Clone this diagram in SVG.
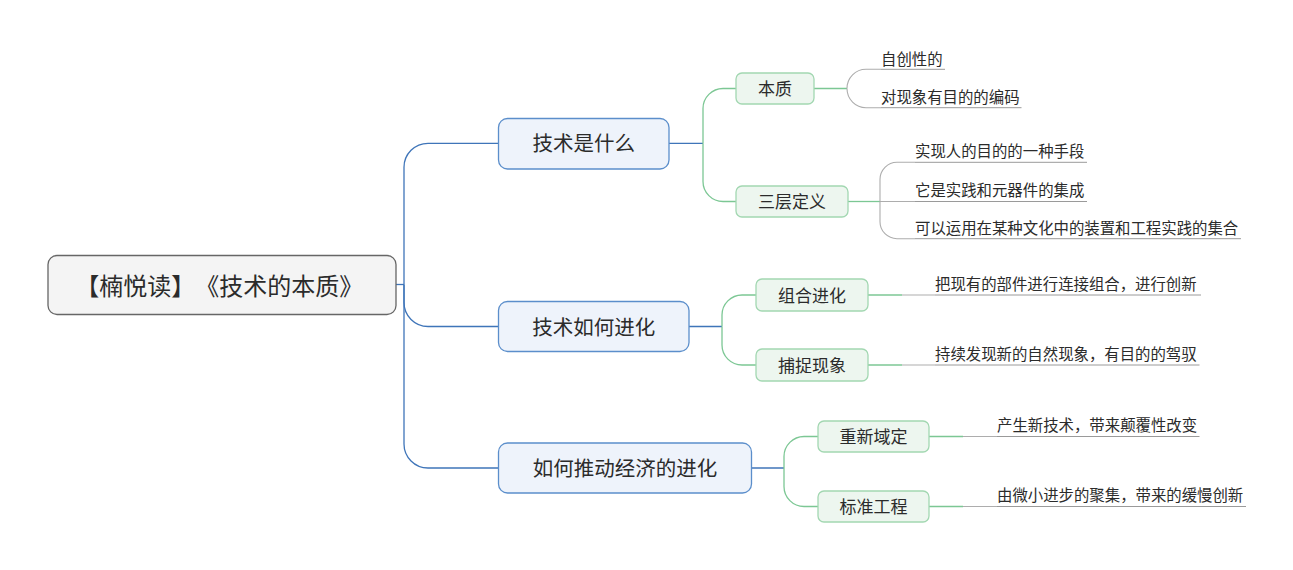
<svg xmlns="http://www.w3.org/2000/svg" width="1293" height="570" viewBox="0 0 1293 570">
<style>
text{font-family:"Noto Sans CJK SC","Noto Sans",sans-serif;fill:#2b2b2b;text-spacing-trim:space-all}
.root rect{fill:#f4f4f4;stroke:#666;stroke-width:1.3}
.root text{font-size:24px}
.l1 rect{fill:#eef3fb;stroke:#5b8ecb;stroke-width:1.3}
.l1 text{font-size:20.5px}
.l2 rect{fill:#edf6ef;stroke:#a2d7b1;stroke-width:1.3}
.l2 text{font-size:17px}
.leaf text{font-size:15.4px}
.leaf path{stroke:#9a9a9a;stroke-width:1;fill:none}
.c path{fill:none;stroke-width:1.3}
.c .b{stroke:#3f75b9}
.c .g{stroke:#7cc794}
.c .y{stroke:#adadad;stroke-width:1.1}
</style>
<rect width="1293" height="570" fill="#fff"/>
<g id="connectors" class="c">
<path class="b" d="M396,284.5 H404"/>
<path class="b" d="M404,284.5 V167.3 A24,24 0 0 1 428,143.3 H498.5"/>
<path class="b" d="M404,284.5 V302.5 A24,24 0 0 0 428,326.5 H498.5"/>
<path class="b" d="M404,284.5 V444 A24,24 0 0 0 428,468 H498.5"/>
<path class="b" d="M669,143.3 H703"/>
<path class="b" d="M689,326.5 H722"/>
<path class="b" d="M751.5,468 H784"/>
<path class="g" d="M703,143.3 V108.5 A20,20 0 0 1 723,88.5 H736"/>
<path class="g" d="M703,143.3 V181.5 A20,20 0 0 0 723,201.5 H736"/>
<path class="g" d="M722,326.5 V315 A20,20 0 0 1 742,295 H756"/>
<path class="g" d="M722,326.5 V345 A20,20 0 0 0 742,365 H756"/>
<path class="g" d="M784,468 V456.5 A20,20 0 0 1 804,436.5 H818"/>
<path class="g" d="M784,468 V486.5 A20,20 0 0 0 804,506.5 H818"/>
<path class="g" d="M814,88.5 H847"/>
<path class="g" d="M848,201.5 H880"/>
<path class="g" d="M868,295 H902"/>
<path class="g" d="M868,365 H902"/>
<path class="g" d="M929,436.5 H963"/>
<path class="g" d="M929,506.5 H963"/>
<path class="y" d="M847,88.5 A19,19.2 0 0 1 866,69.3 H881"/>
<path class="y" d="M847,88.5 A19,19.2 0 0 0 866,107.7 H881"/>
<path class="y" d="M880,201.5 V179.3 A17,17 0 0 1 897,162.3 H915"/>
<path class="y" d="M880,201.5 H915"/>
<path class="y" d="M880,201.5 V221.7 A17,17 0 0 0 897,238.7 H915"/>
<path class="y" d="M902,295 H935"/>
<path class="y" d="M902,365 H935"/>
<path class="y" d="M963,436.5 H997"/>
<path class="y" d="M963,506.5 H997"/>
</g>
<g id="root" class="root"><rect x="48" y="255.5" width="348" height="59" rx="9"/><text y="295.3"><tspan x="75.3">【楠悦读】</tspan><tspan x="195.3">《技术的本质》</tspan></text></g>
<g id="n1" class="l1"><rect x="498.5" y="118.5" width="170.5" height="50.5" rx="9"/><text x="583.7" y="151.1" text-anchor="middle">技术是什么</text></g>
<g id="n2" class="l1"><rect x="498.5" y="301.5" width="190.5" height="50" rx="9"/><text x="593.7" y="334.6" text-anchor="middle">技术如何进化</text></g>
<g id="n3" class="l1"><rect x="498.5" y="443" width="253" height="50" rx="9"/><text x="625" y="475.5" text-anchor="middle">如何推动经济的进化</text></g>
<g id="n1a" class="l2"><rect x="736" y="73" width="78" height="31" rx="6"/><text x="775" y="95" text-anchor="middle">本质</text></g>
<g id="n1b" class="l2"><rect x="736" y="186" width="112" height="31" rx="6"/><text x="792" y="208" text-anchor="middle">三层定义</text></g>
<g id="n2a" class="l2"><rect x="756" y="279" width="112" height="32" rx="6"/><text x="812" y="301.5" text-anchor="middle">组合进化</text></g>
<g id="n2b" class="l2"><rect x="756" y="349" width="112" height="32" rx="6"/><text x="812" y="371.5" text-anchor="middle">捕捉现象</text></g>
<g id="n3a" class="l2"><rect x="818" y="421" width="111" height="31" rx="6"/><text x="873.5" y="443" text-anchor="middle">重新域定</text></g>
<g id="n3b" class="l2"><rect x="818" y="491" width="111" height="31" rx="6"/><text x="873.5" y="513" text-anchor="middle">标准工程</text></g>
<g id="leaf1" class="leaf"><text x="881" y="64.5">自创性的</text><path d="M881,69.3 H945"/></g>
<g id="leaf2" class="leaf"><text x="881" y="102.7">对现象有目的的编码</text><path d="M881,107.7 H1021.5"/></g>
<g id="leaf3" class="leaf"><text x="915" y="157.2">实现人的目的的一种手段</text><path d="M915,162.3 H1087"/></g>
<g id="leaf4" class="leaf"><text x="915" y="195.5">它是实践和元器件的集成</text><path d="M915,201.5 H1087"/></g>
<g id="leaf5" class="leaf"><text x="915" y="233.5">可以运用在某种文化中的装置和工程实践的集合</text><path d="M915,238.7 H1241"/></g>
<g id="leaf6" class="leaf"><text x="935" y="289.8">把现有的部件进行连接组合，进行创新</text><path d="M935,295 H1201"/></g>
<g id="leaf7" class="leaf"><text x="935" y="359.8">持续发现新的自然现象，有目的的驾驭</text><path d="M935,365 H1199.5"/></g>
<g id="leaf8" class="leaf"><text x="997" y="431.3">产生新技术，带来颠覆性改变</text><path d="M997,436.5 H1199.5"/></g>
<g id="leaf9" class="leaf"><text x="997" y="501.3">由微小进步的聚集，带来的缓慢创新</text><path d="M997,506.5 H1246"/></g>
</svg>
